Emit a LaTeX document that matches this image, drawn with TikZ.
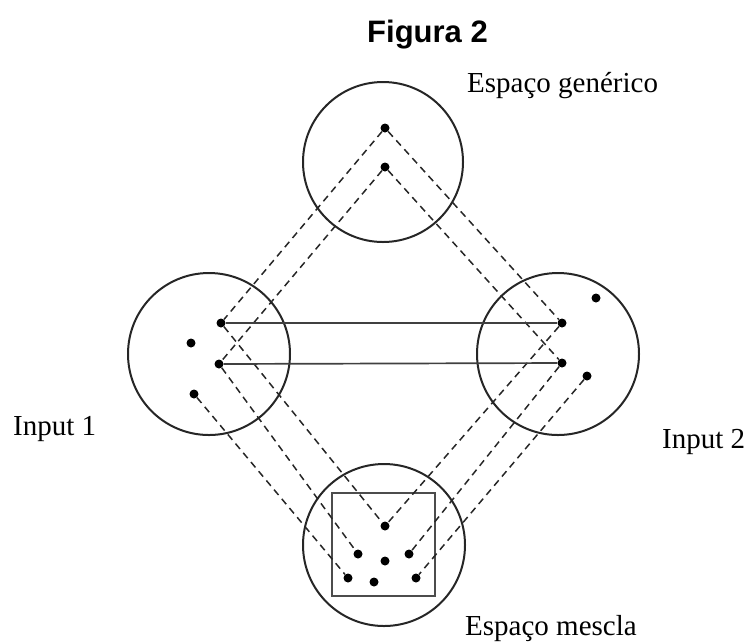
\documentclass[tikz,border=0pt]{standalone}
\usepackage{fontspec}
\setmainfont{Liberation Serif}
\newfontfamily\titlefont{Liberation Sans}
\begin{document}
\begin{tikzpicture}[x=1pt,y=-1pt,
  space/.style={draw=black!85,line width=2pt,circle,inner sep=0pt},
  dot/.style={circle,fill=black,inner sep=0pt,minimum size=9pt},
  proj/.style={dashed,dash pattern=on 7pt off 5pt,line width=1.5pt,black!85},
  link/.style={line width=1.7pt,black!75},
  lbl/.style={inner sep=0pt,anchor=base west,font=\fontsize{29}{32}\selectfont}]
\useasboundingbox (0,0) rectangle (751,641);
% spaces
\node[space,minimum size=160pt] (gen) at (383,162) {};
\node[space,minimum size=162pt] (in1) at (209,354) {};
\node[space,minimum size=162pt] (in2) at (558,354) {};
\node[space,minimum size=162pt] (mix) at (384,545) {};
\draw[line width=1.6pt,black!70] (332,493) rectangle (435,596);
% dots
\node[dot] (t1) at (385,128) {};
\node[dot] (t2) at (385,167) {};
\node[dot] (l1) at (221,323) {};
\node[dot] (l0) at (191,343) {};
\node[dot] (l2) at (219,364) {};
\node[dot] (l3) at (194,394) {};
\node[dot] (r1) at (562,323) {};
\node[dot] (r0) at (596,298) {};
\node[dot] (r2) at (562,363) {};
\node[dot] (r3) at (587,376) {};
\node[dot] (b1) at (385,526) {};
\node[dot] (b2) at (358,554) {};
\node[dot] (bc) at (385,561) {};
\node[dot] (b3) at (409,554) {};
\node[dot] (b4) at (348,578) {};
\node[dot] (b5) at (374,582) {};
\node[dot] (b6) at (416,578) {};
% projections
\draw[proj] (t1) -- (l1);
\draw[proj] (t1) -- (r1);
\draw[proj] (t2) -- (l2);
\draw[proj] (t2) -- (r2);
\draw[proj] (l1) -- (b1);
\draw[proj] (r1) -- (b1);
\draw[proj] (l2) -- (b2);
\draw[proj] (r2) -- (b3);
\draw[proj] (l3) -- (b4);
\draw[proj] (r3) -- (b6);
% cross-space mapping
\draw[link] (l1) -- (r1);
\draw[link] (l2) -- (r2);
% labels
\node[inner sep=0pt,anchor=base west,font=\titlefont\bfseries\fontsize{31}{34}\selectfont] (title) at (367,42) {Figura 2};
\node[lbl] (lgen) at (467,92) {Espaço genérico};
\node[lbl] (lin1) at (13,435) {Input 1};
\node[lbl] (lin2) at (662,448) {Input 2};
\node[lbl] (lmix) at (465,635) {Espaço mescla};
\end{tikzpicture}
\end{document}
